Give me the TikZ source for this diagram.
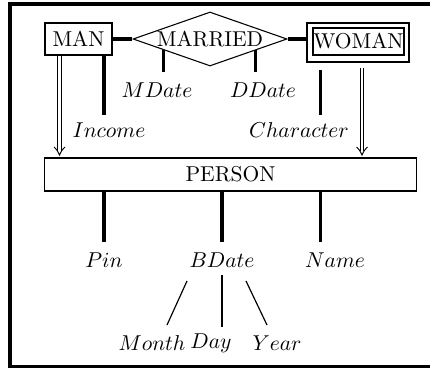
\documentclass[tikz,border=0pt]{standalone}
\usetikzlibrary{shapes.geometric,calc}
\newlength\pxu
\setlength\pxu{0.465pt}
\begin{document}
\begin{tikzpicture}[x=0.465pt,y=-0.465pt,
  ent/.style={draw,line width=0.9pt,inner sep=0pt,font=\normalsize},
  attr/.style={inner sep=0pt,font=\normalsize},
  stem/.style={line width=1.4pt},
  fine/.style={line width=0.55pt},
  isaline/.style={line width=0.45pt}]
\useasboundingbox (0,0) rectangle (430,368);
% frame
\draw[line width=1.4pt] (431,4) -- (10,4) -- (10,366) -- (431,366);
% entities
\node[ent,minimum width=67\pxu,minimum height=32\pxu] (man) at (78.5,39) {MAN};
\node[draw,line width=0.5pt,shape=diamond,aspect=2.85,inner sep=0pt,
  minimum width=154\pxu,minimum height=54\pxu] (married) at (210,39) {MARRIED};
\node[ent,minimum width=102\pxu,minimum height=39\pxu] (womanout) at (358,42.5) {};
\node[ent,minimum width=91\pxu,minimum height=27\pxu] (woman) at (358.5,41.5) {WOMAN};
\node[ent,minimum width=372\pxu,minimum height=33\pxu] (person) at (230.5,174.5) {PERSON};
% attributes
\node[attr] (mdate) at (157,90) {$MDate$};
\node[attr] (ddate) at (263,90) {$DDate$};
\node[attr] (income) at (109,130) {$Income$};
\node[attr] (character) at (299,130) {$Character$};
\node[attr] (pin) at (104,260) {$Pin$};
\node[attr] (bdate) at (222,260) {$BDate$};
\node[attr] (name) at (335,260) {$Name$};
\node[attr] (month) at (152,343) {$Month$};
\node[attr] (day) at (211,343) {$Day$};
\node[attr] (year) at (277,343) {$Year$};
% relationship lines
\draw[stem] (man.east) -- (married.west);
\draw[stem] (married.east) -- (married.east -| womanout.west);
% stems
\coordinate (mdtop) at ($(married.west)!0.4!(married.south)$);
\coordinate (ddtop) at ($(married.east)!0.415!(married.south)$);
\draw[stem] (mdtop) -- (mdtop |- 0,72);
\draw[stem] (ddtop) -- (ddtop |- 0,72);
\coordinate (inctop) at (104,55);
\coordinate (incbot) at (104,115);
\draw[stem] (inctop) -- (incbot);
\coordinate (chtop) at (320,70);
\coordinate (chbot) at (320,115);
\draw[stem] (chtop) -- (chbot);
\draw[stem] (person.south -| pin) -- (pin |- 0,242);
\draw[stem] (person.south -| bdate) -- (bdate |- 0,242);
\coordinate (namex) at (320,242);
\draw[stem] (person.south -| namex) -- (namex);
% isa arrows (double shafts with open head)
\coordinate (isal) at (59.5,55);
\coordinate (isaltip) at (59.5,155);
\coordinate (isar) at (362,68);
\coordinate (isartip) at (362,155);
\foreach \a/\b in {isal/isaltip,isar/isartip}{
  \draw[isaline] ($(\a)+(-1.8,0)$) -- ($(\b)+(-1.8,-4)$);
  \draw[isaline] ($(\a)+(1.8,0)$) -- ($(\b)+(1.8,-4)$);
  \draw[isaline] ($(\b)+(-5.5,-8)$) .. controls ($(\b)+(-2.5,-5)$) .. (\b)
                 .. controls ($(\b)+(2.5,-5)$) .. ($(\b)+(5.5,-8)$);
}
% bdate components
\coordinate (mtop) at (187,281);
\coordinate (mbot) at (167,325);
\draw[fine] (mtop) -- (mbot);
\coordinate (dtop) at (222,275);
\coordinate (dbot) at (222,327);
\draw[line width=1.2pt] (dtop) -- (dbot);
\coordinate (ytop) at (246,281);
\coordinate (ybot) at (267,325);
\draw[fine] (ytop) -- (ybot);
\end{tikzpicture}
\end{document}
